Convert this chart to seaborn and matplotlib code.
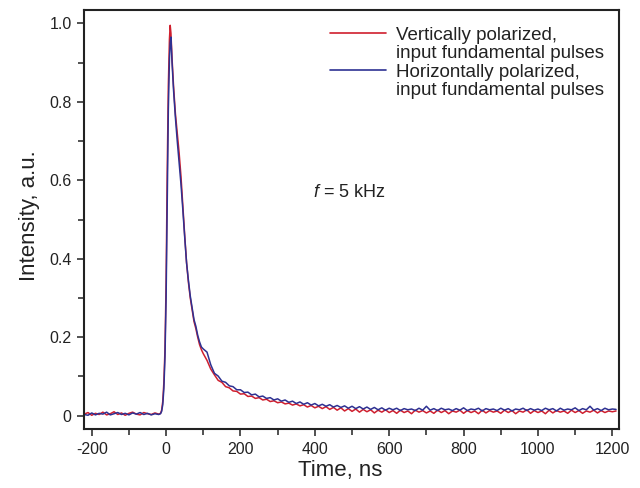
import numpy as np
import pandas as pd
import matplotlib
matplotlib.use("Agg")
import matplotlib.pyplot as plt
import seaborn as sns
from matplotlib.ticker import MultipleLocator, FuncFormatter
from matplotlib.lines import Line2D

# ---------------- data ----------------
time_base = list(range(-220, -10, 10))  # -220 .. -20
time_peak = [-15, -12, -9, -6, -3, 0, 3, 6, 9, 11, 13, 16, 20, 25, 30, 35, 40,
             45, 50, 55, 60, 65, 70, 75, 80, 85, 90, 95]
time_tail = list(range(100, 1220, 10))  # 100 .. 1210
time_ns = time_base + time_peak + time_tail

red_base = [0.004, 0.008, 0.001, 0.006, 0.003, 0.009, 0.002, 0.005, 0.010, 0.003,
            0.007, 0.001, 0.006, 0.009, 0.004, 0.002, 0.008, 0.005, 0.003, 0.007, 0.004]
red_peak = [0.006, 0.014, 0.036, 0.085, 0.17, 0.34, 0.62, 0.84, 0.96, 0.995, 0.975,
            0.91, 0.84, 0.77, 0.72, 0.67, 0.61, 0.535, 0.46, 0.39, 0.34, 0.30,
            0.27, 0.24, 0.222, 0.20, 0.181, 0.168]
red_tail = [0.158, 0.141, 0.119, 0.104, 0.090, 0.085, 0.074, 0.071, 0.063, 0.062,
            0.055, 0.056, 0.049, 0.050, 0.044, 0.046, 0.040, 0.042, 0.036, 0.038,
            0.033, 0.035, 0.030, 0.032, 0.027, 0.030, 0.025, 0.028, 0.022, 0.026,
            0.020, 0.024, 0.018, 0.023, 0.016, 0.021, 0.014, 0.020, 0.012, 0.018,
            0.011, 0.017, 0.009, 0.016, 0.010, 0.015, 0.007, 0.014, 0.009, 0.015,
            0.008, 0.013, 0.006, 0.014, 0.008, 0.012, 0.005, 0.014, 0.009, 0.013,
            0.007, 0.012, 0.006, 0.014, 0.008, 0.013, 0.005, 0.012, 0.009, 0.014,
            0.006, 0.013, 0.008, 0.012, 0.005, 0.014, 0.007, 0.013, 0.009, 0.012,
            0.006, 0.014, 0.008, 0.013, 0.005, 0.012, 0.009, 0.015, 0.006, 0.013,
            0.008, 0.012, 0.005, 0.014, 0.007, 0.013, 0.009, 0.012, 0.006, 0.014,
            0.008, 0.013, 0.006, 0.012, 0.009, 0.014, 0.007, 0.013, 0.008, 0.012,
            0.010, 0.012]
vertical = red_base + red_peak + red_tail

blue_base = [0.003, 0.001, 0.007, 0.002, 0.006, 0.004, 0.009, 0.002, 0.005, 0.008,
             0.003, 0.006, 0.002, 0.007, 0.004, 0.008, 0.003, 0.006, 0.002, 0.005, 0.003]
blue_peak = [0.005, 0.011, 0.028, 0.07, 0.15, 0.30, 0.55, 0.78, 0.91, 0.95, 0.965,
             0.90, 0.83, 0.76, 0.70, 0.645, 0.59, 0.525, 0.455, 0.39, 0.345, 0.305,
             0.275, 0.245, 0.228, 0.205, 0.188, 0.175]
blue_tail = [0.170, 0.162, 0.130, 0.108, 0.101, 0.088, 0.085, 0.076, 0.074, 0.066,
             0.066, 0.059, 0.060, 0.053, 0.055, 0.048, 0.050, 0.044, 0.046, 0.040,
             0.043, 0.037, 0.040, 0.034, 0.037, 0.031, 0.035, 0.029, 0.033, 0.027,
             0.031, 0.025, 0.029, 0.024, 0.028, 0.022, 0.026, 0.021, 0.025, 0.019,
             0.024, 0.018, 0.023, 0.017, 0.022, 0.016, 0.021, 0.015, 0.020, 0.014,
             0.019, 0.015, 0.019, 0.013, 0.018, 0.015, 0.017, 0.013, 0.019, 0.014,
             0.024, 0.014, 0.018, 0.013, 0.019, 0.015, 0.017, 0.013, 0.018, 0.014,
             0.020, 0.013, 0.017, 0.015, 0.019, 0.012, 0.018, 0.015, 0.017, 0.013,
             0.019, 0.014, 0.018, 0.012, 0.017, 0.015, 0.019, 0.013, 0.018, 0.014,
             0.017, 0.013, 0.019, 0.015, 0.018, 0.012, 0.019, 0.014, 0.017, 0.015,
             0.020, 0.013, 0.018, 0.015, 0.024, 0.014, 0.018, 0.013, 0.019, 0.015,
             0.017, 0.016]
horizontal = blue_base + blue_peak + blue_tail

series_names = ["Vertically polarized", "Horizontally polarized"]
legend_lines = [["Vertically polarized,", "input fundamental pulses"],
                ["Horizontally polarized,", "input fundamental pulses"]]
series_colors = ["#cf1f2e", "#2e3192"]
x_ticks = [-200, 0, 200, 400, 600, 800, 1000, 1200]
y_ticks = [0, 0.2, 0.4, 0.6, 0.8, 1.0]

# ---------------- plotting ----------------
sns.set_style("ticks")
plt.rcParams["font.family"] = ["Liberation Sans", "DejaVu Sans"]
plt.rcParams["axes.unicode_minus"] = False
plt.rcParams["mathtext.fontset"] = "custom"
plt.rcParams["mathtext.it"] = "Liberation Sans:italic"
plt.rcParams["mathtext.rm"] = "Liberation Sans"

df = pd.concat([
    pd.DataFrame({"Time": time_ns, "Intensity": vertical, "Series": series_names[0]}),
    pd.DataFrame({"Time": time_ns, "Intensity": horizontal, "Series": series_names[1]}),
], ignore_index=True)

fig = plt.figure(figsize=(6.4, 4.88), dpi=100)
ax = fig.add_axes([0.1313, 0.1203, 0.8364, 0.8592])

sns.lineplot(data=df, x="Time", y="Intensity", hue="Series",
             palette=dict(zip(series_names, series_colors)),
             estimator=None, sort=False, linewidth=1.1, ax=ax, legend=False)

ax.set_xlim(-220.7, 1218.8)
ax.set_ylim(-0.0347, 1.034)
ax.set_xticks(x_ticks)
ax.set_yticks(y_ticks)
ax.xaxis.set_minor_locator(MultipleLocator(100))
ax.yaxis.set_minor_locator(MultipleLocator(0.1))
ax.yaxis.set_major_formatter(FuncFormatter(lambda v, p: "0" if abs(v) < 1e-9 else f"{v:.1f}"))
ax.tick_params(which="major", direction="out", length=5, width=1.1, labelsize=11.5,
               colors="#222222", pad=4)
ax.tick_params(which="minor", direction="out", length=4, width=1.1, colors="#222222")
for s in ax.spines.values():
    s.set_visible(True)
    s.set_linewidth(1.5)
    s.set_color("#222222")

ax.set_xlabel("Time, ns", fontsize=16, color="#222222")
ax.set_ylabel("Intensity, a.u.", fontsize=16, color="#222222")
ax.xaxis.set_label_coords(0.478, -0.074)
ax.yaxis.set_label_coords(-0.083, 0.51)

ax.text(396, 0.57, "$f$ = 5 kHz", fontsize=13, color="#222222", va="center", ha="left")

handles, labels = [], []
for name_lines, col in zip(legend_lines, series_colors):
    handles.append(Line2D([], [], color=col, linewidth=1.2))
    labels.append(name_lines[0])
    handles.append(Line2D([], [], color="none", linewidth=0))
    labels.append(name_lines[1])
leg = ax.legend(handles, labels, loc="upper right", bbox_to_anchor=(0.995, 0.991),
                frameon=False, fontsize=13.5, handlelength=3.0, handletextpad=0.5,
                labelspacing=0.065, borderaxespad=0.3)
for t in leg.get_texts():
    t.set_color("#222222")

fig.savefig("out.png", dpi=100)
